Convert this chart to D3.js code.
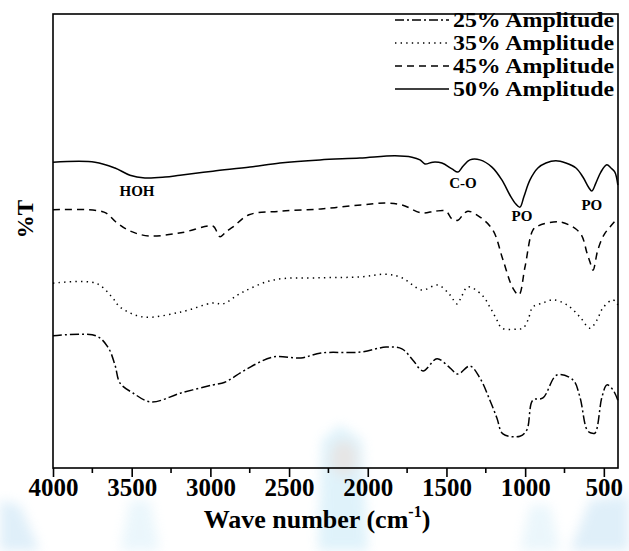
<!DOCTYPE html>
<html>
<head>
<meta charset="utf-8">
<script src="https://cdn.jsdelivr.net/npm/d3@7"></script>
<style>
  body { margin: 0; background: #fff; }
  svg text { font-family: "Liberation Serif", "Times New Roman", Times, serif; font-weight: bold; fill: #000; }
</style>
</head>
<body>
<div id="chart"></div>
<script>
// FTIR spectra, x in wavenumber (cm-1), y in %T (offset curves)
const xTicks = [4000, 3500, 3000, 2500, 2000, 1500, 1000, 500];
const seriesNames = ['25% Amplitude', '35% Amplitude', '45% Amplitude', '50% Amplitude'];

const amp25 = [[4000,28.7],[3727,28.7],[3651,26.2],[3606,22.2],[3574,18.2],[3492,16.0],[3377,14.0],[3187,16.0],
  [2984,17.8],[2908,18.4],[2780,21.1],[2602,24.0],[2424,23.8],[2297,24.9],[2043,25.1],[1884,26.2],[1783,25.8],
  [1713,23.3],[1649,20.9],[1560,23.6],[1478,21.6],[1427,20.2],[1351,22.0],[1287,19.3],[1224,14.4],[1179,10.4],
  [1141,6.9],[1033,6.4],[989,7.8],[951,14.4],[887,14.9],[798,20.0],[696,18.9],[652,15.1],[607,7.8],[581,7.1],
  [556,7.1],[512,15.1],[480,17.8],[442,16.7],[411,14.4]];

const amp35 = [[4000,40.4],[3727,40.4],[3625,37.3],[3574,35.1],[3428,32.9],[3187,34.0],[2984,36.0],[2920,35.8],
  [2806,38.2],[2602,41.1],[2297,41.6],[2043,41.8],[1884,42.4],[1783,41.6],[1656,38.9],[1554,40.0],[1478,37.8],
  [1433,35.8],[1402,37.6],[1364,39.6],[1275,37.8],[1224,35.1],[1179,32.2],[1147,30.4],[1052,30.2],[1014,30.4],
  [982,32.2],[951,35.1],[887,36.0],[823,36.7],[735,35.6],[652,32.9],[588,30.4],[544,32.2],[506,34.9],[442,36.7],
  [411,35.6]];

const amp45 = [[4000,56.7],[3676,56.2],[3600,54.0],[3511,52.0],[3390,50.9],[3187,51.6],[2984,53.1],[2958,51.8],
  [2939,50.7],[2901,51.8],[2856,52.9],[2755,55.6],[2552,56.4],[2297,56.9],[2043,57.8],[1884,58.2],[1783,57.8],
  [1656,56.0],[1573,56.4],[1503,56.4],[1465,54.7],[1427,54.4],[1395,55.6],[1364,56.4],[1287,55.1],[1205,52.2],
  [1141,45.6],[1078,39.3],[1040,37.8],[1001,44.0],[951,52.2],[919,53.1],[779,54.0],[652,51.6],[607,47.1],
  [588,45.1],[569,43.3],[538,47.8],[500,51.1],[461,52.9],[411,54.9]];

const amp50 = [[4000,67.3],[3733,67.3],[3606,66.0],[3511,64.4],[3416,63.8],[3288,64.0],[3193,64.4],[2984,65.3],
  [2748,66.2],[2558,67.1],[2304,67.8],[2050,68.2],[1827,68.7],[1719,68.4],[1668,67.8],[1637,66.9],[1586,67.3],
  [1529,67.1],[1465,65.8],[1427,65.1],[1395,66.4],[1351,67.8],[1287,67.8],[1211,66.2],[1147,63.3],[1097,60.0],
  [1059,58.0],[1033,57.3],[1008,59.6],[970,63.3],[919,66.0],[868,67.1],[805,67.6],[741,67.1],[677,66.0],
  [633,64.0],[595,61.6],[576,60.9],[550,62.7],[519,65.1],[481,66.7],[455,66.0],[430,65.1],[411,62.2]];

const bandLabels = [['HOH', 3466, 59.8], ['C-O', 1395, 61.6], ['PO', 1020, 54.2], ['PO', 576, 56.7]];

const W = 629, H = 551;
const mLeft = 53, mRight = 618, mTop = 14, mBottom = 468;

const svg = d3.select('#chart').append('svg')
    .attr('width', W)
    .attr('height', H);

// faint watermark behind the chart
const defs = svg.append('defs');
defs.append('filter').attr('id', 'blur').append('feGaussianBlur').attr('stdDeviation', 6);
const wm = svg.append('g').attr('filter', 'url(#blur)').attr('opacity', 0.45);
wm.append('path').attr('d', 'M318,551 L322,440 L340,425 L362,440 L368,551 Z').attr('fill', '#b9e3f5');
wm.append('ellipse').attr('cx', 344).attr('cy', 458).attr('rx', 14).attr('ry', 18).attr('fill', '#c9c9c9');
wm.append('path').attr('d', 'M0,551 L0,500 L20,505 L40,551 Z').attr('fill', '#b9dcf2');
wm.append('path').attr('d', 'M629,551 L629,495 L590,500 L570,551 Z').attr('fill', '#b9dcf2');
wm.append('path').attr('d', 'M120,551 L130,500 L150,500 L160,551 Z').attr('fill', '#d3ecf8');
wm.append('path').attr('d', 'M520,551 L530,505 L550,505 L560,551 Z').attr('fill', '#d3ecf8');

const x = d3.scaleLinear().domain([4000, 410]).range([mLeft, mRight]);
const y = d3.scaleLinear().domain([-0.667, 100.22]).range([mBottom, mTop]);

// frame
svg.append('rect')
    .attr('x', mLeft).attr('y', mTop)
    .attr('width', mRight - mLeft).attr('height', mBottom - mTop)
    .attr('fill', 'none').attr('stroke', '#000').attr('stroke-width', 1.6);

// x axis with minor ticks
const minor = d3.range(4000, 400, -250).filter(v => v % 500 !== 0);
const gx = svg.append('g').attr('transform', `translate(0,${mBottom})`);
gx.call(d3.axisBottom(x).tickValues(xTicks).tickFormat(d3.format('d')).tickSize(9).tickPadding(1))
  .call(g => g.select('.domain').remove())
  .call(g => g.selectAll('line').attr('stroke-width', 1.6))
  .call(g => g.selectAll('text').attr('font-size', 25));
gx.selectAll('.minor').data(minor).enter().append('line')
    .attr('x1', d => x(d)).attr('x2', d => x(d))
    .attr('y1', 0).attr('y2', 5)
    .attr('stroke', '#000').attr('stroke-width', 1.6);

// axis titles
const title = svg.append('text')
    .attr('x', 317).attr('y', 528)
    .attr('text-anchor', 'middle').attr('font-size', 26);
title.append('tspan').text('Wave number (cm');
title.append('tspan').attr('font-size', 16).attr('dy', -11).text('-1');
title.append('tspan').attr('dy', 11).text(')');

svg.append('text')
    .attr('transform', 'translate(33,219) rotate(-90)')
    .attr('text-anchor', 'middle').attr('font-size', 23)
    .text('%T');

// spectra
const styles = [
  { data: amp25, dash: '9,3,2,3' },
  { data: amp35, dash: '1.4,4.2' },
  { data: amp45, dash: '7,5' },
  { data: amp50, dash: null }
];
const line = d3.line()
    .x(d => x(d[0]))
    .y(d => y(d[1]))
    .curve(d3.curveCatmullRom.alpha(0.5));

styles.forEach(s => {
  svg.append('path')
      .datum(s.data)
      .attr('d', line)
      .attr('fill', 'none')
      .attr('stroke', '#000')
      .attr('stroke-width', 1.5)
      .attr('stroke-dasharray', s.dash);
});

// band labels
svg.selectAll('.band').data(bandLabels).enter().append('text')
    .attr('x', d => x(d[1])).attr('y', d => y(d[2]))
    .attr('text-anchor', 'middle').attr('font-size', 15)
    .text(d => d[0]);

// legend
const legend = svg.append('g');
seriesNames.forEach((name, i) => {
  const ly = 20 + i * 23;
  legend.append('line')
      .attr('x1', 395).attr('x2', 449).attr('y1', ly).attr('y2', ly)
      .attr('stroke', '#000').attr('stroke-width', 1.5)
      .attr('stroke-dasharray', styles[i].dash);
  legend.append('text')
      .attr('x', 453).attr('y', ly + 7)
      .attr('font-size', 20)
      .attr('textLength', 161)
      .attr('lengthAdjust', 'spacingAndGlyphs')
      .text(name);
});
</script>
</body>
</html>
